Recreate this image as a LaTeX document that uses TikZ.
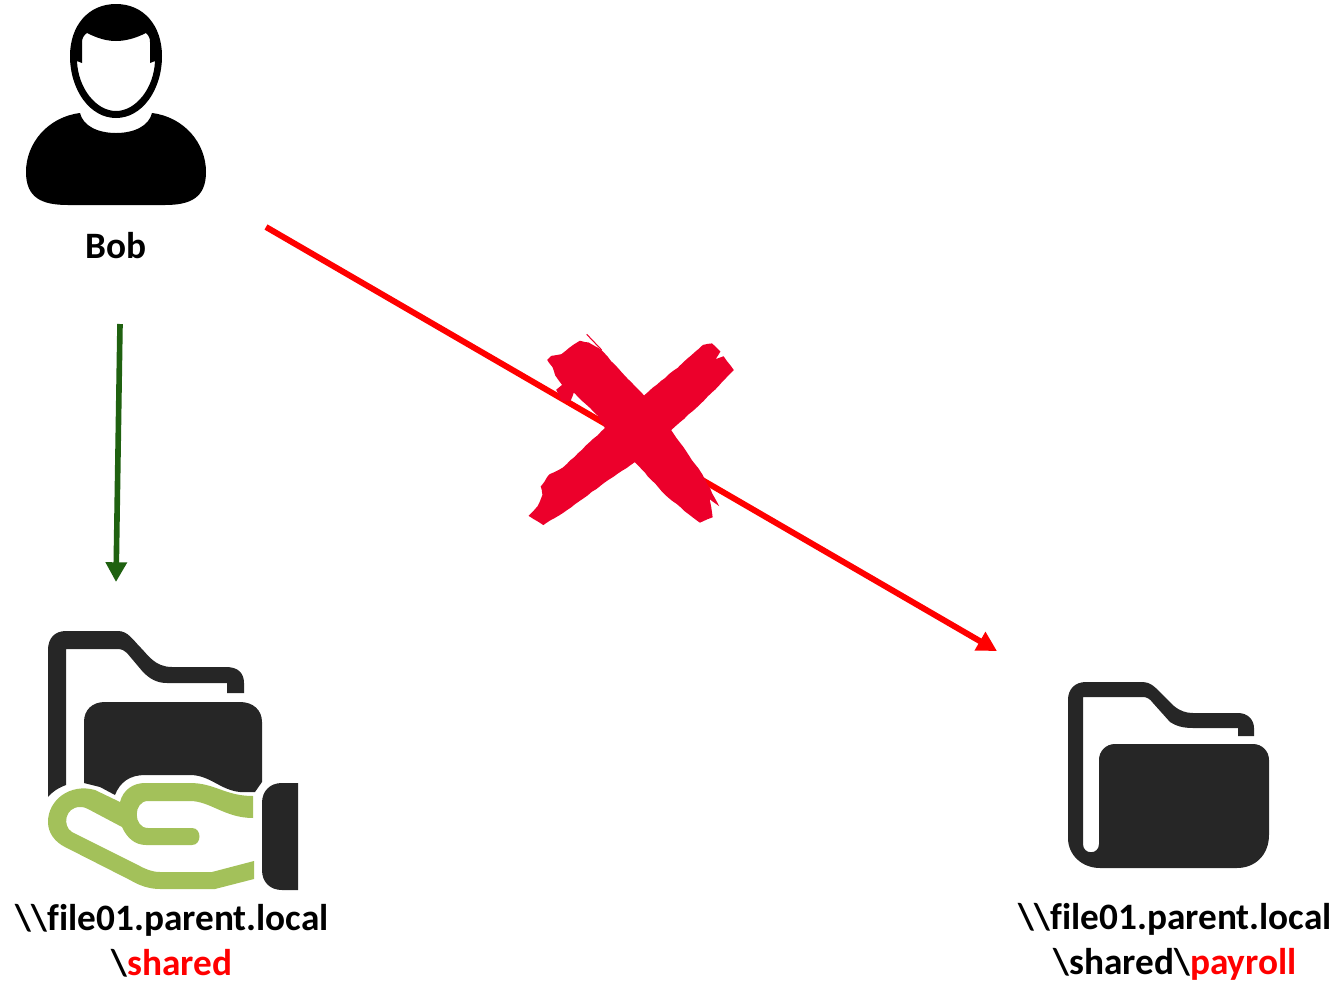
\documentclass[tikz,border=0pt]{standalone}
\usepackage{fontspec}
\setmainfont{Carlito}[Ligatures=NoCommon]
\usetikzlibrary{arrows.meta,positioning,decorations.pathmorphing}
\definecolor{iconblack}{HTML}{262626}
\definecolor{handgreen}{HTML}{A3C15A}
\definecolor{crossred}{HTML}{EC002B}
\definecolor{allowgreen}{HTML}{1F6110}

\begin{document}
\begin{tikzpicture}[x=0.01cm,y=-0.01cm,>=Latex]
  \tikzstyle{caption}=[font=\fontsize{10.6pt}{12.8pt}\selectfont\bfseries,align=center,inner sep=0pt]
  \tikzstyle{allowed}=[draw=allowgreen,line width=1.6pt,-{Triangle[length=5.6pt,width=5.8pt]}]
  \tikzstyle{denied}=[draw=red,line width=1.7pt,-{Triangle[length=5.6pt,width=5.8pt]}]
  \useasboundingbox (0,0) rectangle (1341,984);
  % person
  \fill[even odd rule] (116,4) .. controls (88,4) and (70,26) .. (70,56) .. controls (70,90) and (90,118) .. (116,118)
    .. controls (142,118) and (162,90) .. (162,56) .. controls (162,26) and (144,4) .. (116,4) -- cycle
    (87,33) .. controls (97,38) and (106,41) .. (116,41) .. controls (126,41) and (136,38) .. (146,33)
    .. controls (149,36) and (150,38) .. (150,42) -- (150,63) -- (155,61) .. controls (154,88) and (136,111) .. (116,111)
    .. controls (96,111) and (78,88) .. (77,61) -- (82,63) -- (82,42) .. controls (82,38) and (84,35) .. (87,33) -- cycle;
  \fill (80,113) .. controls (83,126) and (98,133) .. (116,133) .. controls (134,133) and (149,126) .. (152,113)
    .. controls (184,117) and (206,143) .. (206,172) .. controls (206,198) and (190,205) .. (165,205)
    -- (68,205) .. controls (42,205) and (26,198) .. (26,172) .. controls (26,143) and (48,117) .. (80,113) -- cycle;
  % connectors
  \coordinate (bobdown) at (120,324);
  \coordinate (sharedtop) at (116,582);
  \coordinate (bobright) at (266,227);
  \coordinate (payrolltop) at (997,651);
  \draw[allowed] (bobdown) -- (sharedtop);
  \draw[denied] (bobright) -- (payrolltop);
  % cross
  \filldraw[crossred,line width=0.5pt,decorate,decoration={random steps,segment length=1.5pt,amplitude=0.1pt}]
    (548.3,360) -- (551.7,356.7) -- (561.7,355) -- (570,348.3) -- (580,341.7) -- (588.3,343.3) -- (600,350) -- (620,371.7)
    -- (644,396.7) -- (653.3,388.3) -- (680,366.7) -- (703.3,345.7) -- (711.7,344.3) -- (719.3,351.7) -- (713.3,361)
    -- (723.3,357.3) -- (732.7,370) -- (703.3,400) -- (670,430) -- (701.7,475) -- (716.7,503.3) -- (708.3,496.7)
    -- (711.7,516.7) -- (700,521.7) -- (693.3,516.7) -- (666.7,495) -- (635,461) -- (600,485) -- (563.3,511.7)
    -- (543.3,524) -- (530,515.7) -- (538.3,506.7) -- (543.3,495) -- (541.7,486.7) -- (550,475) -- (563.3,468.3)
    -- (606,428.3) -- (598.3,415) -- (573.3,391) -- (570,400) -- (561.7,400) -- (557.3,390) -- (563.3,385)
    -- (556,375) -- (553.3,366.7) -- cycle;
  \draw[crossred,line width=0.3pt] (586.7,334.3) -- (601.7,350);
  % shared folder
  \fill[iconblack] (48,797) -- (48,650) .. controls (48,638) and (55,631) .. (66,631) -- (118,631)
    .. controls (128,631) and (133,640) .. (141,648) .. controls (148,655) and (155,667) .. (172,667) -- (226,667)
    .. controls (238,667) and (244,673) .. (244,683) -- (244,693) -- (227,693) -- (227,683) -- (167,683)
    .. controls (157,683) and (150,679) .. (143,672) -- (127,653) .. controls (125,651) and (122,649) .. (118,649) -- (66,649)
    -- (66,785) .. controls (58,788) and (52,792) .. (48,797) -- cycle;
  \fill[iconblack] (84,783) -- (84,722) .. controls (84,710) and (92,702) .. (105,702) -- (240,702)
    .. controls (253,702) and (262,710) .. (262,722) -- (262,782) -- (255,792) -- (240,792)
    .. controls (220,790) and (210,775) .. (190,775) -- (145,775) .. controls (130,775) and (120,782) .. (115,795)
    -- (100,787) -- (84,783) -- cycle;
  \fill[iconblack] (298,783) -- (282,783) .. controls (270,783) and (262,791) .. (262,803) -- (262,870)
    .. controls (262,882) and (270,890) .. (282,890) -- (298,890) -- cycle;
  \fill[handgreen] (253,796) .. controls (225,796) and (215,783) .. (190,783) -- (145,783)
    .. controls (133,783) and (123,790) .. (120,802) -- (95,790) .. controls (70,783) and (48,800) .. (48,822)
    .. controls (48,833) and (55,842) .. (65,847) -- (130,880) .. controls (140,886) and (150,889) .. (160,889)
    -- (215,889) -- (254,879) -- (254,861) -- (212,872) -- (160,872) .. controls (152,872) and (145,869) .. (138,865)
    -- (72,832) .. controls (62,826) and (65,807) .. (80,807) .. controls (84,807) and (86,808) .. (88,809)
    -- (122,827) .. controls (127,838) and (135,845) .. (146,845) -- (192,845) .. controls (202,845) and (202,828) .. (192,828)
    -- (148,828) .. controls (133,828) and (133,801) .. (148,801) -- (190,801) .. controls (210,801) and (225,818) .. (253,818) -- cycle;
  % payroll folder
  \fill[iconblack] (1068,700) .. controls (1068,689) and (1075,682) .. (1086,682) -- (1143,682)
    .. controls (1150,682) and (1155,687) .. (1160,692) -- (1174,706) .. controls (1180,711) and (1186,713) .. (1193,713)
    -- (1238,713) .. controls (1248,713) and (1254,720) .. (1254,728)
    -- (1254,736) -- (1238,736) -- (1238,728) -- (1193,728) .. controls (1183,728) and (1176,726) .. (1170,722)
    -- (1153,703) .. controls (1150,699) and (1147,697) .. (1143,697)
    -- (1083,697) -- (1083,844) .. controls (1083,855) and (1099,855) .. (1099,844) -- (1099,760)
    .. controls (1099,751) and (1106,744) .. (1115,744) -- (1253,744) .. controls (1262,744) and (1269,751) .. (1269,760)
    -- (1269,835) .. controls (1269,855) and (1255,868) .. (1237,868) -- (1100,868)
    .. controls (1082,868) and (1068,855) .. (1068,838) -- cycle;
  % captions
  \node[caption] (bob) at (116,246) {Bob};
  \node[caption] (shared) at (172,941) {\textbackslash\textbackslash file01.parent.local\\\textbackslash\textcolor{red}{shared}};
  \node[caption] (payroll) at (1175,942) {\textbackslash\textbackslash file01.parent.local\\\textbackslash shared\textbackslash\textcolor{red}{payroll}};
\end{tikzpicture}
\end{document}
